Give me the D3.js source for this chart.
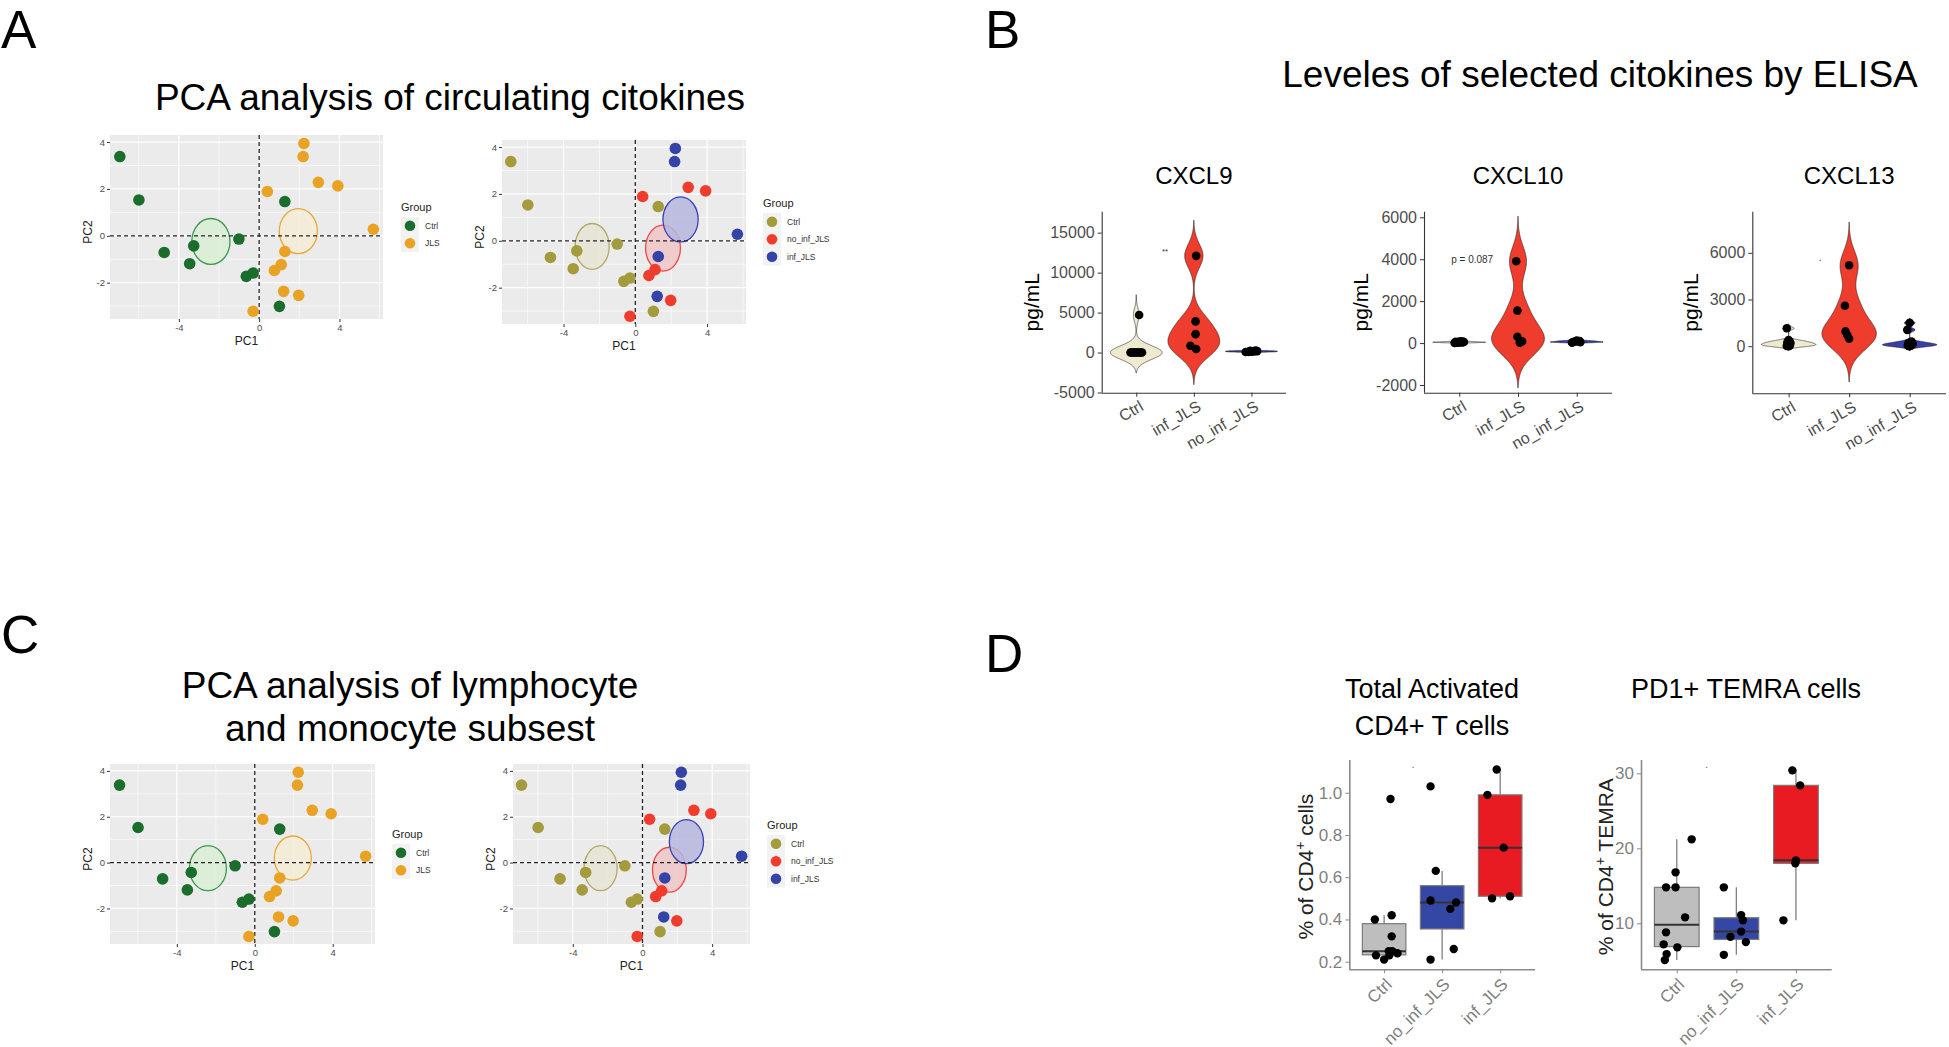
<!DOCTYPE html>
<html>
<head>
<meta charset="utf-8">
<script src="https://cdn.jsdelivr.net/npm/d3@7"></script>
<style>
  body { margin: 0; background: #fff; }
  text { font-family: "Liberation Sans", Arial, Helvetica, sans-serif; }
</style>
</head>
<body>
<svg id="fig"></svg>
<script>
// ---------------- data ----------------
// PCA scores (same individuals in both PCA rows)
var pc1 = [-6.94, -5.99, -4.73, -3.26, -3.46, -1.01, -0.64, -0.30, 1.28, 1.01,
            2.23, 2.19, 5.69, 1.28, 1.22,
            2.95, 3.92, 0.41, 1.10, 0.76, 1.97, -0.30];
var pc2 = [3.38, 1.53, -0.71, -0.43, -1.19, -0.14, -1.73, -1.59, 1.46, -3.01,
            3.94, 3.38, 0.28, -0.67, -2.37,
            2.28, 2.13, 1.89, -1.23, -1.48, -2.54, -3.22];
var subGroup = ["Ctrl", "Ctrl", "Ctrl", "Ctrl", "Ctrl", "Ctrl", "Ctrl", "Ctrl", "Ctrl", "Ctrl",
                "inf_JLS", "inf_JLS", "inf_JLS", "inf_JLS", "inf_JLS",
                "no_inf_JLS", "no_inf_JLS", "no_inf_JLS", "no_inf_JLS", "no_inf_JLS", "no_inf_JLS", "no_inf_JLS"];
var mainGroup = subGroup.map(function (s) { return s === "Ctrl" ? "Ctrl" : "JLS"; });
var groups2 = ["Ctrl", "JLS"];
var groups3 = ["Ctrl", "no_inf_JLS", "inf_JLS"];
// ellipse half-axes (PC units)
var ell2 = [[0.95, 0.98], [0.95, 0.96]];
var ell3 = [[0.95, 0.98], [0.97, 0.98], [0.98, 0.96]];
var pcXTicks = [-4, 0, 4];
var pcYTicks = [-2, 0, 2, 4];

// ELISA (pg/mL)
var elisaGroups = ["Ctrl", "inf_JLS", "no_inf_JLS"];
var cxcl9Ctrl = [0, 0, 0, 0, 0, 0, 0, 0, 0, 4700];
var cxcl9Inf = [12100, 3900, 2300, 850, 450];
var cxcl9NoInf = [60, 90, 120, 150, 180, 210, 240];
var cxcl10Ctrl = [10, 20, 30, 40, 50, 60, 70, 80, 45, 35];
var cxcl10Inf = [3900, 1550, 300, 80, 20];
var cxcl10NoInf = [20, 40, 60, 80, 100, 50, 120];
var cxcl13Ctrl = [1150, 400, 300, 250, 200, 150, 100, 50, 20, 0];
var cxcl13Inf = [5200, 2600, 950, 700, 480];
var cxcl13NoInf = [1500, 1050, 300, 200, 150, 100, 60, 30, 0];
var cxcl9Ticks = [-5000, 0, 5000, 10000, 15000];
var cxcl10Ticks = [-2000, 0, 2000, 4000, 6000];
var cxcl13Ticks = [0, 3000, 6000];

// flow cytometry (% of CD4+)
var cellGroups = ["Ctrl", "no_inf_JLS", "inf_JLS"];
var actCtrl = [0.97, 0.42, 0.40, 0.32, 0.25, 0.25, 0.24, 0.23, 0.23, 0.21];
var actNoInf = [1.03, 0.63, 0.49, 0.48, 0.45, 0.26, 0.21];
var actInf = [1.11, 0.99, 0.74, 0.50, 0.51];
var temraCtrl = [21.2, 16.8, 14.8, 14.8, 10.8, 8.8, 7.2, 6.8, 5.9, 5.1];
var temraNoInf = [14.8, 11.1, 10.4, 8.9, 8.2, 7.5, 5.8];
var temraInf = [30.4, 28.4, 18.4, 18.0, 10.4];
var actTicks = [0.2, 0.4, 0.6, 0.8, 1.0];
var temraTicks = [10, 20, 30];

// horizontal jitter of the dots (fraction of category step)
var jit9 = [[-0.1, -0.05, 0, 0.05, 0.1, -0.08, 0.08, -0.03, 0.03, 0.05], [0.04, 0.03, 0.03, -0.06, 0.04], [-0.1, -0.05, 0, 0.05, 0.1, -0.02, 0.07]];
var jit10 = [[-0.08, -0.04, 0, 0.04, 0.08, -0.06, 0.06, 0.02, -0.02, 0.05], [-0.03, -0.01, -0.01, 0.07, 0.03], [-0.08, 0.06, -0.04, 0.02, 0.05, -0.06, 0.0]];
var jit13 = [[-0.03, 0, 0.02, -0.02, 0.03, 0.01, -0.01, 0.02, -0.03, 0], [0, -0.07, -0.06, -0.03, 0], [0, -0.04, 0.03, -0.02, 0.05, 0.01, -0.03, 0.02, -0.01]];
var jitAct = [[0.11, 0.13, -0.16, 0.13, 0.14, 0.08, 0.23, -0.14, 0.09, 0], [-0.2, -0.11, -0.2, 0.24, 0.14, 0.2, -0.2], [-0.06, -0.22, 0.06, -0.14, 0.17]];
var jitTemra = [[0.25, -0.02, -0.18, -0.02, 0.14, -0.18, -0.22, 0.01, -0.17, -0.2], [-0.21, 0.08, 0.11, 0.08, -0.1, 0.16, -0.21], [-0.06, 0.07, 0, -0.01, -0.21]];

// ---------------- figure ----------------
var W = 1949, H = 1047;
var svg = d3.select("#fig").attr("width", W).attr("height", H);
svg.append("rect").attr("width", W).attr("height", H).attr("fill", "#fff");

function txt(x, y, s, size, opts) {
  opts = opts || {};
  return svg.append("text").attr("x", x).attr("y", y).text(s)
    .attr("font-size", size + "px")
    .attr("fill", opts.fill || "#000")
    .attr("text-anchor", opts.anchor || "start");
}

// panel letters and titles
txt(1, 48, "A", 53);
txt(985, 48, "B", 53);
txt(1, 653, "C", 53);
txt(985, 672, "D", 53);
txt(450, 110, "PCA analysis of circulating citokines", 37, { anchor: "middle" });
txt(1600, 87, "Leveles of selected citokines by ELISA", 37, { anchor: "middle" });
txt(410, 698, "PCA analysis of lymphocyte", 37, { anchor: "middle" });
txt(410, 741, "and monocyte subsest", 37, { anchor: "middle" });

// ---------------- PCA panels ----------------
var pcXDom = [-7.43, 6.17], pcYDom = [-3.55, 4.3];
var colMain = { "Ctrl": "#1b6d2c", "JLS": "#e9a224" };
var colSub = { "Ctrl": "#a39b3c", "no_inf_JLS": "#f03c2c", "inf_JLS": "#3443a6" };
var ellStrokeMain = { "Ctrl": "#3b9a4d", "JLS": "#e8a93c" };
var ellFillMain = { "Ctrl": "#d9efd4", "JLS": "#f4ecd6" };
var ellStrokeSub = { "Ctrl": "#b0a96a", "no_inf_JLS": "#ee4747", "inf_JLS": "#3a40b6" };
var ellFillSub = { "Ctrl": "#e6e4d4", "no_inf_JLS": "#f1c6c6", "inf_JLS": "#b5b6de" };

function pcaPanel(p, grp, names, cols, eStroke, eFill, ellR, leg) {
  var x = d3.scaleLinear().domain(pcXDom).range([p.x0, p.x1]);
  var y = d3.scaleLinear().domain(pcYDom).range([p.y1, p.y0]);
  var g = svg.append("g");
  g.append("rect").attr("x", p.x0).attr("y", p.y0)
    .attr("width", p.x1 - p.x0).attr("height", p.y1 - p.y0).attr("fill", "#ebebeb");
  // minor grid
  g.selectAll(".mx").data([-6, -2, 2, 6]).join("line")
    .attr("x1", function (d) { return x(d); }).attr("x2", function (d) { return x(d); })
    .attr("y1", p.y0).attr("y2", p.y1).attr("stroke", "#fff").attr("stroke-width", 0.6);
  g.selectAll(".my").data([-3, -1, 1, 3]).join("line")
    .attr("y1", function (d) { return y(d); }).attr("y2", function (d) { return y(d); })
    .attr("x1", p.x0).attr("x2", p.x1).attr("stroke", "#fff").attr("stroke-width", 0.6);
  // major grid
  g.selectAll(".gx").data(pcXTicks).join("line")
    .attr("x1", function (d) { return x(d); }).attr("x2", function (d) { return x(d); })
    .attr("y1", p.y0).attr("y2", p.y1).attr("stroke", "#fff").attr("stroke-width", 1.2);
  g.selectAll(".gy").data(pcYTicks).join("line")
    .attr("y1", function (d) { return y(d); }).attr("y2", function (d) { return y(d); })
    .attr("x1", p.x0).attr("x2", p.x1).attr("stroke", "#fff").attr("stroke-width", 1.2);

  var pts = pc1.map(function (v, i) { return { x: v, y: pc2[i], g: grp[i] }; });
  // group ellipses centred on the group means
  names.forEach(function (n, k) {
    var sub = pts.filter(function (d) { return d.g === n; });
    var cx = d3.mean(sub, function (d) { return d.x; });
    var cy = d3.mean(sub, function (d) { return d.y; });
    g.append("ellipse")
      .attr("cx", x(cx)).attr("cy", y(cy))
      .attr("rx", x(cx + ellR[k][0]) - x(cx))
      .attr("ry", y(cy) - y(cy + ellR[k][1]))
      .attr("fill", eFill[n]).attr("fill-opacity", 0.85)
      .attr("stroke", eStroke[n]).attr("stroke-width", 1.3);
  });
  // reference lines
  g.append("line").attr("x1", x(0)).attr("x2", x(0)).attr("y1", p.y0).attr("y2", p.y1)
    .attr("stroke", "#222").attr("stroke-width", 1.3).attr("stroke-dasharray", "4,3");
  g.append("line").attr("y1", y(0)).attr("y2", y(0)).attr("x1", p.x0).attr("x2", p.x1)
    .attr("stroke", "#222").attr("stroke-width", 1.3).attr("stroke-dasharray", "4,3");
  // points
  g.selectAll(".pt").data(pts).join("circle")
    .attr("cx", function (d) { return x(d.x); }).attr("cy", function (d) { return y(d.y); })
    .attr("r", 5.8).attr("fill", function (d) { return cols[d.g]; });

  // axes
  var ax = g.append("g").attr("transform", "translate(0," + p.y1 + ")")
    .call(d3.axisBottom(x).tickValues(pcXTicks).tickSize(3).tickPadding(2).tickFormat(d3.format("d")));
  var ay = g.append("g").attr("transform", "translate(" + p.x0 + ",0)")
    .call(d3.axisLeft(y).tickValues(pcYTicks).tickSize(3).tickPadding(2).tickFormat(d3.format("d")));
  [ax, ay].forEach(function (a) {
    a.select(".domain").remove();
    a.selectAll("line").attr("stroke", "#333");
    a.selectAll("text").attr("fill", "#4d4d4d").attr("font-size", "9.5px")
      .text(function (d) { return String(d); });
  });
  g.append("text").attr("x", (p.x0 + p.x1) / 2).attr("y", p.y1 + 26)
    .attr("text-anchor", "middle").attr("font-size", "12px").attr("fill", "#222").text("PC1");
  g.append("text").attr("transform", "translate(" + (p.x0 - 18) + "," + ((p.y0 + p.y1) / 2 + 5) + ") rotate(-90)")
    .attr("text-anchor", "middle").attr("font-size", "12px").attr("fill", "#222").text("PC2");

  // legend
  var lg = g.append("g").attr("transform", "translate(" + leg.x + "," + leg.y + ")");
  lg.append("text").attr("x", 0).attr("y", 0).attr("font-size", "11px").attr("fill", "#222").text("Group");
  names.forEach(function (n, k) {
    var ky = 6 + k * 17.5;
    lg.append("rect").attr("x", 0).attr("y", ky).attr("width", 18).attr("height", 17.5).attr("fill", "#f2f2f2");
    lg.append("circle").attr("cx", 9).attr("cy", ky + 8.8).attr("r", 5.3).attr("fill", cols[n]);
    lg.append("text").attr("x", 24).attr("y", ky + 11.8).attr("font-size", "8.5px").attr("fill", "#333").text(n);
  });
}

pcaPanel({ x0: 110, x1: 383, y0: 135, y1: 319 }, mainGroup, groups2, colMain, ellStrokeMain, ellFillMain, ell2, { x: 401, y: 211 });
pcaPanel({ x0: 502, x1: 746, y0: 140, y1: 324 }, subGroup, groups3, colSub, ellStrokeSub, ellFillSub, ell3, { x: 763, y: 207 });
pcaPanel({ x0: 110, x1: 375, y0: 764, y1: 944 }, mainGroup, groups2, colMain, ellStrokeMain, ellFillMain, ell2, { x: 392, y: 838 });
pcaPanel({ x0: 513, x1: 750, y0: 764, y1: 944 }, subGroup, groups3, colSub, ellStrokeSub, ellFillSub, ell3, { x: 767, y: 829 });

// ---------------- violin panels ----------------
function bwNrd0(v) {
  var s = v.slice().sort(d3.ascending);
  var hi = d3.deviation(s);
  var lo = Math.min(hi, (d3.quantile(s, 0.75) - d3.quantile(s, 0.25)) / 1.34);
  if (!lo) lo = hi || Math.abs(s[0]) || 1;
  return 0.9 * lo * Math.pow(s.length, -0.2);
}
function kde(v) {
  var bw = bwNrd0(v);
  var lo = d3.min(v) - 3 * bw, hi = d3.max(v) + 3 * bw;
  var n = 512, out = [];
  for (var i = 0; i < n; i++) {
    var t = lo + (hi - lo) * i / (n - 1);
    var dens = d3.mean(v, function (xi) {
      var u = (t - xi) / bw;
      return Math.exp(-0.5 * u * u) / (Math.sqrt(2 * Math.PI) * bw);
    });
    out.push([t, dens]);
  }
  return out;
}

var violinFill = ["#eeead0", "#ee3d2c", "#3a3fa6"];
var violins = [
  { title: "CXCL9", data: [cxcl9Ctrl, cxcl9Inf, cxcl9NoInf], jit: jit9, dom: [-5025, 17625], ticks: cxcl9Ticks,
    p: { x0: 1101.7, x1: 1286, y0: 211.7, y1: 392.7 }, labX: 1039, note: { t: "**", at: 0.5, v: 12700, size: 8 } },
  { title: "CXCL10", data: [cxcl10Ctrl, cxcl10Inf, cxcl10NoInf], jit: jit10, dom: [-2367, 6267], ticks: cxcl10Ticks,
    p: { x0: 1424, x1: 1612, y0: 211.7, y1: 392.7 }, labX: 1368, note: { t: "p = 0.087", at: 0.22, v: 3980, size: 10 } },
  { title: "CXCL13", data: [cxcl13Ctrl, cxcl13Inf, cxcl13NoInf], jit: jit13, dom: [-3026, 8642], ticks: cxcl13Ticks,
    p: { x0: 1752.3, x1: 1946, y0: 211.7, y1: 393.3 }, labX: 1698, note: { t: ".", at: 0.52, v: 5700, size: 10 } }
];

violins.forEach(function (s) {
  var p = s.p;
  var x = d3.scalePoint().domain(elisaGroups).range([p.x0, p.x1]).padding(0.6);
  var y = d3.scaleLinear().domain(s.dom).range([p.y1, p.y0]);
  var half = x.step() * 0.45;
  var g = svg.append("g");

  s.data.forEach(function (vals, k) {
    var cx = x(elisaGroups[k]);
    var d = kde(vals);
    var m = d3.max(d, function (e) { return e[1]; });
    var area = d3.area()
      .y(function (e) { return y(e[0]); })
      .x0(function (e) { return cx - e[1] / m * half; })
      .x1(function (e) { return cx + e[1] / m * half; });
    g.append("path").datum(d).attr("d", area)
      .attr("fill", violinFill[k]).attr("stroke", "#222").attr("stroke-width", 0.6);
  });
  s.data.forEach(function (vals, k) {
    var cx = x(elisaGroups[k]);
    g.selectAll(null).data(vals).join("circle")
      .attr("cx", function (v, i) { return cx + s.jit[k][i] * x.step(); })
      .attr("cy", function (v) { return y(v); })
      .attr("r", 4.3).attr("fill", "#000");
  });

  var ax = g.append("g").attr("transform", "translate(0," + p.y1 + ")")
    .call(d3.axisBottom(x).tickSize(4).tickSizeOuter(0));
  ax.select(".domain").attr("d", "M" + p.x0 + ",0.5H" + p.x1);
  ax.selectAll("text").attr("font-size", "16px").attr("fill", "#4d4d4d")
    .attr("text-anchor", "end").attr("dy", "0.35em")
    .attr("transform", "translate(5,12) rotate(-30)").attr("y", 0);
  var ay = g.append("g").attr("transform", "translate(" + p.x0 + ",0)")
    .call(d3.axisLeft(y).tickValues(s.ticks).tickSize(4).tickPadding(3).tickFormat(function (d) { return String(d); }));
  ay.select(".domain").attr("d", "M0.5," + p.y0 + "V" + p.y1);
  ay.selectAll("text").attr("font-size", "16px").attr("fill", "#4d4d4d");
  [ax, ay].forEach(function (a) {
    a.select(".domain").attr("stroke", "#333").attr("stroke-width", 1.1);
    a.selectAll("line").attr("stroke", "#333");
  });

  g.append("text").attr("x", (p.x0 + p.x1) / 2).attr("y", 184).attr("text-anchor", "middle")
    .attr("font-size", "24px").text(s.title);
  g.append("text").attr("transform", "translate(" + s.labX + "," + ((p.y0 + p.y1) / 2) + ") rotate(-90)")
    .attr("text-anchor", "middle").attr("font-size", "21px").text("pg/mL");
  g.append("text").attr("x", x(elisaGroups[0]) + s.note.at * x.step()).attr("y", y(s.note.v))
    .attr("text-anchor", "middle").attr("dy", "0.35em").attr("font-size", s.note.size + "px")
    .attr("fill", "#333").text(s.note.t);
});

// ---------------- box plot panels ----------------
var boxFill = ["#bebebe", "#3547a4", "#e81b22"];
var boxes = [
  { title: ["Total Activated", "CD4+ T cells"], cx: 1432, data: [actCtrl, actNoInf, actInf], jit: jitAct,
    dom: [0.164, 1.155], ticks: actTicks, fmt: d3.format(".1f"),
    p: { x0: 1349.3, x1: 1535, y0: 760, y1: 969.3 }, labX: 1313, lab: " cells", note: 1.136 },
  { title: ["PD1+ TEMRA cells"], cx: 1746, data: [temraCtrl, temraNoInf, temraInf], jit: jitTemra,
    dom: [3.87, 31.78], ticks: temraTicks, fmt: d3.format("d"),
    p: { x0: 1641, x1: 1831.7, y0: 760, y1: 969.3 }, labX: 1613, lab: " TEMRA", note: 31.24 }
];

boxes.forEach(function (s) {
  var p = s.p;
  var x = d3.scalePoint().domain(cellGroups).range([p.x0, p.x1]).padding(0.6);
  var y = d3.scaleLinear().domain(s.dom).range([p.y1, p.y0]);
  var bw = x.step() * 0.75;
  var g = svg.append("g");

  s.data.forEach(function (vals, k) {
    var cx = x(cellGroups[k]);
    var v = vals.slice().sort(d3.ascending);
    var q1 = d3.quantile(v, 0.25), med = d3.quantile(v, 0.5), q3 = d3.quantile(v, 0.75);
    var iqr = q3 - q1;
    var wHi = d3.max(v.filter(function (e) { return e <= q3 + 1.5 * iqr; }));
    var wLo = d3.min(v.filter(function (e) { return e >= q1 - 1.5 * iqr; }));
    g.append("line").attr("x1", cx).attr("x2", cx).attr("y1", y(q3)).attr("y2", y(wHi))
      .attr("stroke", "#808080").attr("stroke-width", 1.3);
    g.append("line").attr("x1", cx).attr("x2", cx).attr("y1", y(q1)).attr("y2", y(wLo))
      .attr("stroke", "#808080").attr("stroke-width", 1.3);
    g.append("rect").attr("x", cx - bw / 2).attr("y", y(q3)).attr("width", bw).attr("height", y(q1) - y(q3))
      .attr("fill", boxFill[k]).attr("stroke", "#7a7a7a").attr("stroke-width", 1.2);
    g.append("line").attr("x1", cx - bw / 2).attr("x2", cx + bw / 2).attr("y1", y(med)).attr("y2", y(med))
      .attr("stroke", "#333").attr("stroke-width", 2);
  });
  s.data.forEach(function (vals, k) {
    var cx = x(cellGroups[k]);
    g.selectAll(null).data(vals).join("circle")
      .attr("cx", function (v, i) { return cx + s.jit[k][i] * x.step(); })
      .attr("cy", function (v) { return y(v); })
      .attr("r", 4.2).attr("fill", "#000");
  });

  var ax = g.append("g").attr("transform", "translate(0," + p.y1 + ")")
    .call(d3.axisBottom(x).tickSize(4).tickSizeOuter(0));
  ax.select(".domain").attr("d", "M" + p.x0 + ",0.5H" + p.x1);
  ax.selectAll("text").attr("font-size", "17px").attr("fill", "#7f7f7f")
    .attr("text-anchor", "end").attr("dy", "0.35em")
    .attr("transform", "translate(4,12) rotate(-45)").attr("y", 0);
  var ay = g.append("g").attr("transform", "translate(" + p.x0 + ",0)")
    .call(d3.axisLeft(y).tickValues(s.ticks).tickSize(4).tickPadding(3).tickFormat(s.fmt));
  ay.select(".domain").attr("d", "M0.5," + p.y0 + "V" + p.y1);
  ay.selectAll("text").attr("font-size", "17px").attr("fill", "#7f7f7f");
  [ax, ay].forEach(function (a) {
    a.select(".domain").attr("stroke", "#8a8a8a").attr("stroke-width", 1.6);
    a.selectAll("line").attr("stroke", "#8a8a8a");
  });

  s.title.forEach(function (t, i) {
    g.append("text").attr("x", s.cx).attr("y", 697.5 + i * 37).attr("text-anchor", "middle")
      .attr("font-size", "27px").text(t);
  });
  var yl = g.append("text")
    .attr("transform", "translate(" + s.labX + "," + ((p.y0 + p.y1) / 2 + 2) + ") rotate(-90)")
    .attr("text-anchor", "middle").attr("font-size", "21px").attr("fill", "#222");
  yl.append("tspan").text("% of CD4");
  yl.append("tspan").attr("baseline-shift", "super").attr("font-size", "14px").text("+");
  yl.append("tspan").text(s.lab);
  g.append("text").attr("x", x(cellGroups[0]) + 0.5 * x.step()).attr("y", y(s.note))
    .attr("text-anchor", "middle").attr("dy", "0.35em").attr("font-size", "10px")
    .attr("fill", "#555").text(".");
});
</script>
</body>
</html>
